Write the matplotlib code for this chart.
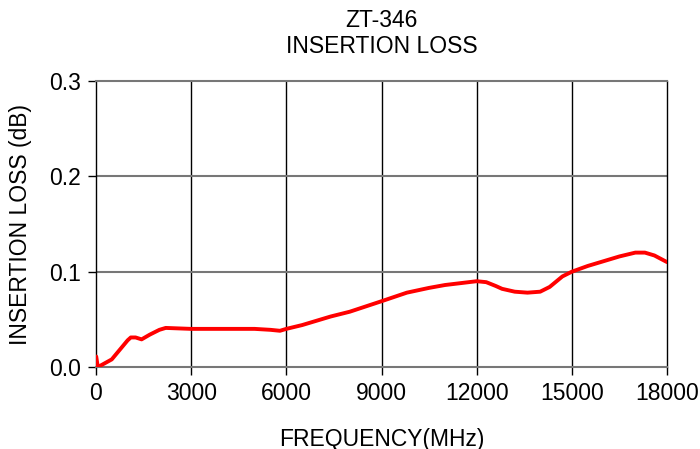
import matplotlib
matplotlib.use('Agg')
import matplotlib.pyplot as plt

## values
freq_mhz = [10, 60, 120, 500, 800, 1000, 1100, 1250, 1440, 1700, 2000, 2200, 3000, 4000,
            5000, 5500, 5800, 6000, 6500, 7400, 8000, 9000, 9800, 10500, 11000,
            11500, 12000, 12300, 12600, 12800, 13200, 13600, 14000, 14300, 14700, 15000,
            15500, 16000, 16500, 17000, 17300, 17600, 18000]
loss_db = [0.011, 0.000, 0.001, 0.008, 0.020, 0.028, 0.031, 0.031, 0.029, 0.034, 0.039, 0.041,
           0.040, 0.040, 0.040, 0.039, 0.038, 0.040, 0.044, 0.053, 0.058, 0.069,
           0.078, 0.083, 0.086, 0.088, 0.090, 0.089, 0.085, 0.082, 0.079, 0.078, 0.079,
           0.084, 0.095, 0.100, 0.106, 0.111, 0.116, 0.120, 0.120, 0.117, 0.110]

x_ticks = [0, 3000, 6000, 9000, 12000, 15000, 18000]
y_ticks = [0.0, 0.1, 0.2, 0.3]
y_tick_labels = ['0.0', '0.1', '0.2', '0.3']

plt.rcParams['font.family'] = ['Liberation Sans', 'DejaVu Sans']
fs = 16.5

fig = plt.figure(figsize=(7, 4.49), dpi=100)
ax = fig.add_axes([0.137, 0.1826, 0.816, 0.637])

## grid: vertical black, horizontal gray
for xv in x_ticks[1:-1]:
    ax.axvline(xv, color='black', lw=1, zorder=1)
for yv in y_ticks[1:-1]:
    ax.axhline(yv, color='#777777', lw=1.5, zorder=1)

ax.plot(freq_mhz, loss_db, color='#ff0000', lw=2.8, solid_capstyle='round',
        solid_joinstyle='round', zorder=3)

ax.set_xlim(0, 18000)
ax.set_ylim(0, 0.3)
ax.set_xticks(x_ticks)
ax.set_xticklabels([str(v) for v in x_ticks])
ax.set_yticks(y_ticks)
ax.set_yticklabels(y_tick_labels)
ax.tick_params(direction='out', length=6, width=1, labelsize=fs, color='black')
ax.tick_params(axis='x', pad=5)
ax.tick_params(axis='y', pad=5)

for side in ['top', 'bottom']:
    ax.spines[side].set_color('#777777')
    ax.spines[side].set_linewidth(1.5)
for side in ['left', 'right']:
    ax.spines[side].set_color('black')
    ax.spines[side].set_linewidth(1)

ax.set_xlabel('FREQUENCY(MHz)', fontsize=fs, labelpad=16)
ax.set_ylabel('INSERTION LOSS (dB)', fontsize=fs, labelpad=12)
ax.set_title('ZT-346\nINSERTION LOSS', fontsize=fs, pad=20, linespacing=1.2)

fig.savefig('out.png', dpi=100)
